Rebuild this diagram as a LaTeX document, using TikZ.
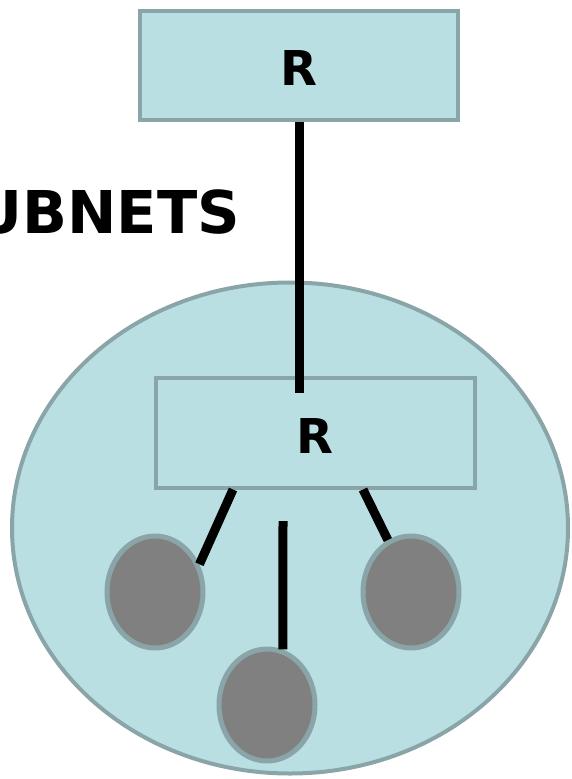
\documentclass[tikz,border=0pt]{standalone}
\usepackage{fontspec}
\setmainfont{DejaVu Sans}
\usetikzlibrary{shapes.geometric}
\definecolor{boxfill}{HTML}{BADFE2}
\definecolor{boxline}{HTML}{89A5A8}
\definecolor{hostfill}{HTML}{808080}
\tikzset{
  router/.style={draw=boxline, line width=4pt, fill=boxfill, inner sep=0pt, font=\fontsize{48}{48}\selectfont\bfseries},
  host/.style={ellipse, draw=boxline, line width=5pt, fill=hostfill, minimum width=96pt, minimum height=112pt, inner sep=0pt},
  link/.style={line width=9pt, black}
}
\begin{document}
\begin{tikzpicture}[x=1pt,y=-1pt]
\useasboundingbox (0,0) rectangle (571,779);
\clip (0,0) rectangle (571,779);
\node[ellipse, draw=boxline, line width=4pt, fill=boxfill, minimum width=556pt, minimum height=491pt, inner sep=0pt] (net) at (290,528) {};
\node[router, minimum width=318pt, minimum height=109pt] (top) at (299,65) {};
\node[font=\fontsize{48}{48}\selectfont\bfseries] (toplabel) at (299,68) {R};
\node[router, minimum width=319pt, minimum height=110pt] (inner) at (315,432.5) {};
\node[font=\fontsize{48}{48}\selectfont\bfseries] (innerlabel) at (315,436) {R};
\node[anchor=base east, inner sep=0pt, font=\fontsize{59}{59}\selectfont\bfseries] (title) at (240,233) {SUBNETS};
\node[host] (h1) at (155,592) {};
\node[host] (h2) at (411,592) {};
\node[host] (h3) at (267,705) {};
\coordinate (upend) at (299,393);
\coordinate (midtop) at (283,521);
\draw[link] (top.south) -- (upend);
\draw[link] ([xshift=-82pt]inner.south) -- (h1.32);
\draw[link] ([xshift=48pt]inner.south) -- (h2.114);
\draw[link] (midtop) -- (h3.74);
\end{tikzpicture}
\end{document}
